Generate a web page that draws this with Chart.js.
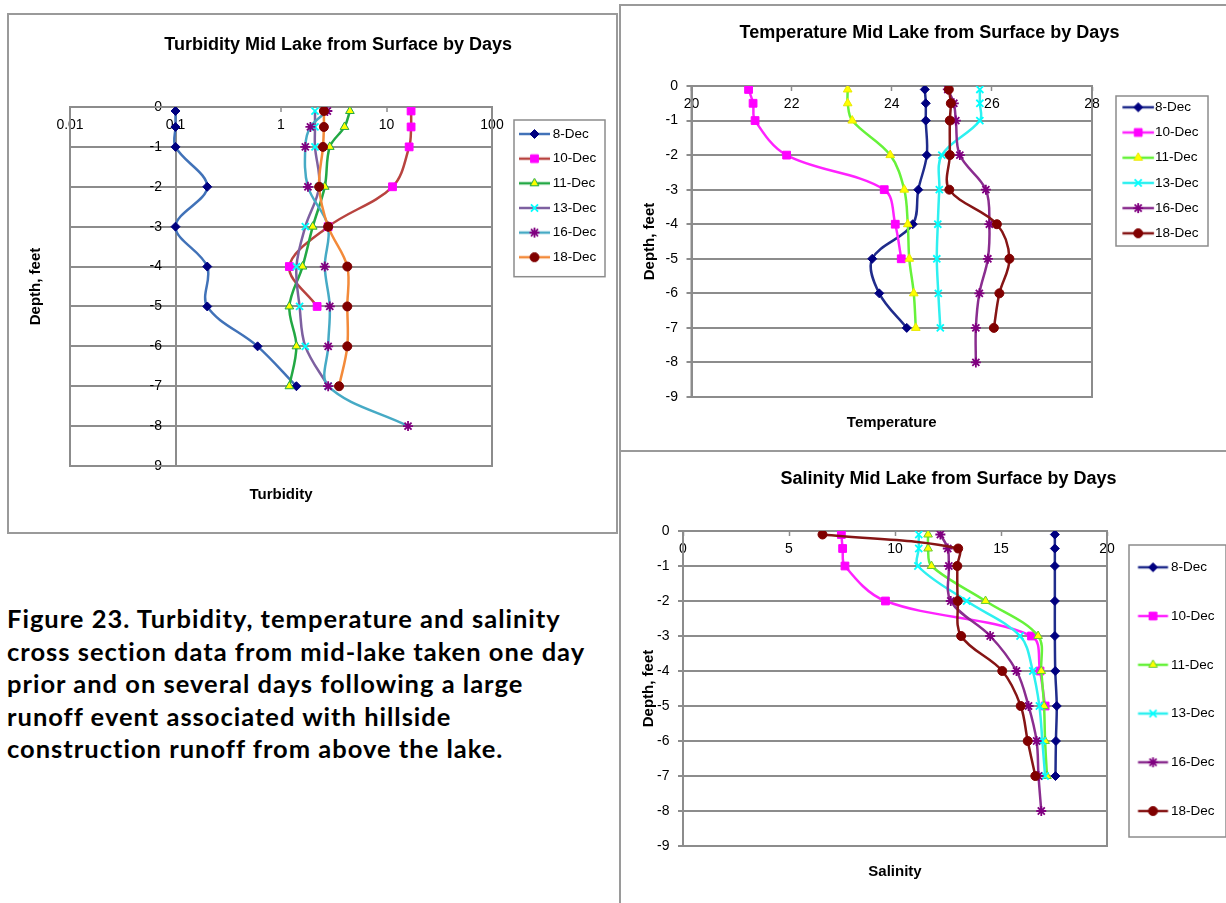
<!DOCTYPE html>
<html>
<head>
<meta charset="utf-8">
<script src="https://cdn.jsdelivr.net/npm/chart.js@4.4.1/dist/chart.umd.min.js"></script>
<style>
  body { margin: 0; background: #fff; width: 1226px; height: 903px; overflow: hidden; position: relative; }
  .box { position: absolute; border: 2px solid #9a9a9a; background: #fff; }
  #turbBox { left: 7px; top: 13px; width: 607px; height: 517px; }
  #tempBox { left: 619px; top: 4px; width: 606px; height: 444px; border-bottom: none; }
  #salBox { left: 619px; top: 450px; width: 606px; height: 455px; }
  canvas { display: block; }
  #caption { position: absolute; left: 7px; top: 602px; font-family: Lato, 'Open Sans', sans-serif;
             font-weight: 700; font-size: 25.5px; letter-spacing: 1px; line-height: 32.5px; color: #000; }
</style>
</head>
<body>
<div class="box" id="turbBox"><canvas id="turb" width="607" height="517"></canvas></div>
<div class="box" id="tempBox"><canvas id="temp" width="606" height="444"></canvas></div>
<div class="box" id="salBox"><canvas id="sal" width="606" height="451"></canvas></div>
<div id="caption">Figure 23. Turbidity, temperature and salinity<br>cross section data from mid-lake taken one day<br>prior and on several days following a large<br>runoff event associated with hillside<br>construction runoff from above the lake.</div>

<script>
// sampling days and depths (feet below surface)
const dayLabels = ['8-Dec', '10-Dec', '11-Dec', '13-Dec', '16-Dec', '18-Dec'];
const depthTo7 = [-0.1, -0.5, -1, -2, -3, -4, -5, -6, -7];
const depthTo5 = [-0.1, -0.5, -1, -2, -3, -4, -5];
const depthTo8 = [-0.1, -0.5, -1, -2, -3, -4, -5, -6, -7, -8];
const seriesDepths = [depthTo7, depthTo5, depthTo7, depthTo7, depthTo8, depthTo7];

// tick labels
const depthTicks = [0, -1, -2, -3, -4, -5, -6, -7, -8, -9];
const turbTicks = [0.01, 0.1, 1, 10, 100];
const tempTicks = [20, 22, 24, 26, 28];
const salTicks = [0, 5, 10, 15, 20];

// turbidity
const turb8  = [0.1, 0.1, 0.1, 0.2, 0.1, 0.2, 0.2, 0.6, 1.4];
const turb10 = [17.1, 17.1, 16.4, 11.4, 2.8, 1.2, 2.2];
const turb11 = [4.5, 4.0, 2.9, 2.6, 2.0, 1.6, 1.2, 1.4, 1.2];
const turb13 = [2.1, 2.1, 2.1, 2.3, 1.7, 1.4, 1.5, 1.7, 2.8];
const turb16 = [2.75, 1.9, 1.7, 1.8, 2.8, 2.6, 2.9, 2.8, 2.8, 16];
const turb18 = [2.55, 2.55, 2.5, 2.3, 2.8, 4.25, 4.25, 4.25, 3.55];

// temperature
const temp8  = [24.66, 24.68, 24.68, 24.7, 24.53, 24.42, 23.61, 23.75, 24.3];
const temp10 = [21.14, 21.23, 21.27, 21.9, 23.85, 24.07, 24.19];
const temp11 = [23.12, 23.12, 23.21, 23.97, 24.25, 24.32, 24.35, 24.44, 24.48];
const temp13 = [25.76, 25.76, 25.76, 25.0, 24.95, 24.92, 24.9, 24.93, 24.97];
const temp16 = [25.12, 25.24, 25.28, 25.36, 25.88, 25.95, 25.92, 25.75, 25.68, 25.68];
const temp18 = [25.14, 25.18, 25.16, 25.16, 25.15, 26.1, 26.35, 26.15, 26.04];

// salinity
const sal8  = [17.54, 17.54, 17.54, 17.54, 17.54, 17.56, 17.63, 17.59, 17.57];
const sal10 = [7.47, 7.53, 7.64, 9.55, 16.44, 16.84, 17.08];
const sal11 = [11.56, 11.56, 11.72, 14.27, 16.75, 16.9, 17.03, 17.08, 17.17];
const sal13 = [11.12, 11.12, 11.08, 13.38, 15.9, 16.5, 16.81, 16.95, 17.08];
const sal16 = [12.14, 12.49, 12.54, 12.63, 14.49, 15.73, 16.3, 16.68, 16.77, 16.9];
const sal18 = [6.58, 12.98, 12.94, 12.96, 13.12, 15.06, 15.93, 16.26, 16.62];

// styling
const gridColor = '#8c8c8c';
const keyFontSize = 13.5;
const tickFontSize = 14;
const keyPad = 6;
const markerStyles = ['rectRot', 'rect', 'triangle', 'crossRot', 'star', 'circle'];
const markerSizes = [4.5, 5.5, 5, 5, 5, 4.5];
const markerColors = ['#000080', '#ff00ff', '#ffff00', '#00ffff', '#800080', '#800000'];
const turbLines = ['#4172b8', '#b8433f', '#22a844', '#7d60a0', '#46aac5', '#f38a3a'];
const plainLines = ['#202c8c', '#ff22ff', '#66f23a', '#2ef0f0', '#8a2d8f', '#861515'];

Chart.defaults.font.family = "'Liberation Sans', Arial, sans-serif";
Chart.defaults.color = '#000';

function pairs(values, depths) {
  return values.map((v, i) => ({ x: v, y: depths[i] }));
}

function buildSets(series, lineColors, triangleEdge) {
  return series.map((vals, i) => ({
    label: dayLabels[i],
    data: pairs(vals, seriesDepths[i]),
    showLine: true,
    borderColor: lineColors[i],
    backgroundColor: lineColors[i],
    borderWidth: 2.5,
    tension: 0.35,
    pointStyle: markerStyles[i],
    pointRadius: markerSizes[i],
    pointBackgroundColor: markerColors[i],
    pointBorderColor: i === 2 ? triangleEdge : markerColors[i],
    pointBorderWidth: (i === 3 || i === 4) ? 1.8 : 1,
    order: -i
  }));
}

// small line+marker sample used as legend symbol
function keyImage(ds, dx, len) {
  const half = Math.ceil(Math.abs(dx) + len / 2 + 8);
  const c = document.createElement('canvas');
  c.width = half * 2; c.height = 16;
  const ctx = c.getContext('2d');
  const cx = half + dx, cy = 8;
  ctx.strokeStyle = ds.borderColor; ctx.lineWidth = 2.5;
  ctx.beginPath(); ctx.moveTo(cx - len / 2, cy); ctx.lineTo(cx + len / 2, cy); ctx.stroke();
  ctx.fillStyle = ds.pointBackgroundColor; ctx.strokeStyle = ds.pointBorderColor; ctx.lineWidth = ds.pointBorderWidth;
  Chart.helpers.drawPoint(ctx, { pointStyle: ds.pointStyle, radius: ds.pointRadius, rotation: 0, borderWidth: ds.pointBorderWidth }, cx, cy);
  return c;
}

// text widths, measured the way the legend and axis measure them
function widestText(texts, size) {
  const ctx = document.createElement('canvas').getContext('2d');
  ctx.font = size + 'px ' + Chart.defaults.font.family;
  return Math.max(...texts.map(t => ctx.measureText(t).width));
}

const plotFrame = {
  id: 'plotFrame',
  beforeDatasetsDraw(chart) {
    const { ctx, chartArea: a } = chart;
    ctx.save();
    ctx.strokeStyle = gridColor; ctx.lineWidth = 2;
    ctx.strokeRect(a.left, a.top, a.right - a.left, a.bottom - a.top);
    ctx.restore();
  }
};

const legendFrame = {
  id: 'legendFrame',
  afterDraw(chart, args, f) {
    const hb = chart.legend.legendHitBoxes;
    if (!hb || !hb.length) return;
    const half = keyFontSize / 2;
    const first = hb[0], last = hb[hb.length - 1];
    const x = first.left + f.left;
    const y = first.top + half - f.above;
    const h = last.top + half + f.below - y;
    const ctx = chart.ctx;
    ctx.save();
    ctx.strokeStyle = '#8c8c8c'; ctx.lineWidth = 1.5;
    ctx.strokeRect(x, y, f.width, h);
    ctx.restore();
  }
};

function tickSetter(list) {
  return s => { s.ticks = [...list].sort((a, b) => a - b).map(v => ({ value: v })); };
}

function makeChart(id, o) {
  const canvas = document.getElementById(id);
  const keyBox = o.textOffset - keyPad - keyFontSize / 2;
  const legendW = o.textOffset + widestText(dayLabels, keyFontSize) + 10;
  const padRight = canvas.width - o.area.right - legendW;
  const padLeft = Math.max(0, Math.min(o.area.left, 2 * o.titleX - (o.area.right + legendW)));
  const yWidth = o.area.left - padLeft;
  const depthWidest = widestText(depthTicks.map(String), tickFontSize);

  return new Chart(canvas, {
    type: 'scatter',
    data: { datasets: o.datasets },
    options: {
      responsive: false,
      animation: false,
      devicePixelRatio: 1,
      layout: { padding: { left: padLeft, top: 0, right: padRight, bottom: 0 } },
      plugins: {
        title: {
          display: true, text: o.title, color: '#000',
          font: { size: 18, weight: 'bold' },
          padding: { top: o.titlePad[0], bottom: o.titlePad[1] }
        },
        subtitle: {
          display: true, position: 'bottom', fullSize: false, text: o.xTitle, color: '#000',
          font: { size: 15, weight: 'bold' },
          padding: { top: o.xTitlePad[0], bottom: o.xTitlePad[1] }
        },
        legend: {
          position: 'right', align: 'start',
          title: { display: true, text: ' ', font: { size: 1, lineHeight: 1 }, padding: { top: o.legendTop - 1, bottom: 0 } },
          labels: {
            usePointStyle: true, pointStyleWidth: keyBox, padding: keyPad, color: '#000',
            font: { size: keyFontSize, lineHeight: o.keyLine + 'px' },
            generateLabels: chart => chart.data.datasets.map((ds, i) => ({
              text: [ds.label],
              pointStyle: keyImage(ds, o.keyDx, o.keyLen),
              fillStyle: ds.borderColor, strokeStyle: ds.borderColor, lineWidth: 0,
              hidden: false, datasetIndex: i, fontColor: '#000'
            }))
          }
        },
        tooltip: { enabled: false },
        legendFrame: o.frame
      },
      scales: {
        x: Object.assign({
          position: { y: 0 },
          afterBuildTicks: tickSetter(o.xTicks),
          ticks: { font: { size: tickFontSize }, color: '#000', padding: 6, autoSkip: false, maxRotation: 0 },
          grid: { display: true, drawOnChartArea: false, drawTicks: true, tickLength: 4, tickColor: gridColor, tickWidth: 1.5 },
          border: { display: true, color: gridColor, width: 2 }
        }, o.xScale),
        y: {
          type: 'linear', min: -9, max: 0, position: 'left',
          afterBuildTicks: tickSetter(depthTicks),
          afterFit: s => { s.width = yWidth; s.paddingTop = 8; s.paddingBottom = 8; },
          // labels right-aligned at a fixed offset from the plot's left edge
          ticks: { font: { size: tickFontSize }, color: '#000', mirror: true, crossAlign: 'far', padding: o.yLabelRight - depthWidest },
          grid: { color: gridColor, lineWidth: 2, drawTicks: o.yTickMarks, tickLength: 5, tickColor: gridColor },
          border: { display: true, color: gridColor, width: 2 },
          title: {
            display: true, text: 'Depth, feet', color: '#000',
            font: { size: 15, weight: 'bold' },
            padding: { top: o.yTitleX - padLeft - 9, bottom: 0 }
          }
        }
      }
    },
    plugins: [plotFrame, legendFrame]
  });
}

makeChart('turb', {
  datasets: buildSets([turb8, turb10, turb11, turb13, turb16, turb18], turbLines, '#22a844'),
  title: 'Turbidity Mid Lake from Surface by Days', xTitle: 'Turbidity',
  xScale: {
    type: 'logarithmic', min: 0.01, max: 100,
    ticks: { font: { size: tickFontSize }, color: '#000', padding: 6, autoSkip: false, maxRotation: 0, callback: v => String(v) },
    // only the vertical axis line at 0.1 is drawn across the plot
    grid: {
      display: true, drawTicks: true, tickLength: 4, tickColor: gridColor, tickWidth: 1.5, lineWidth: 2,
      color: c => (c.tick && c.tick.value === 0.1) ? gridColor : 'rgba(0,0,0,0)'
    }
  },
  xTicks: turbTicks,
  area: { left: 61, right: 483, top: 92, bottom: 451 },
  titleX: 333, yTitleX: 26.6, yLabelRight: 92, yTickMarks: false,
  titlePad: [19, 51.4], xTitlePad: [19.8, 28.2],
  textOffset: 60.7, legendTop: 106.25, keyLine: 18.65, keyDx: 12.5, keyLen: 31,
  frame: { left: 16, width: 91, above: 14, below: 19.45 }
});

makeChart('temp', {
  datasets: buildSets([temp8, temp10, temp11, temp13, temp16, temp18], plainLines, '#e8e800'),
  title: 'Temperature Mid Lake from Surface by Days', xTitle: 'Temperature',
  xScale: { type: 'linear', min: 20, max: 28 },
  xTicks: tempTicks,
  area: { left: 70.5, right: 471, top: 80, bottom: 391 },
  titleX: 308.5, yTitleX: 29, yLabelRight: -13.5, yTickMarks: true,
  titlePad: [16.5, 41.9], xTitlePad: [17.3, 17.7],
  textOffset: 63, legendTop: 88.55, keyLine: 19.2, keyDx: 15.1, keyLen: 31.5,
  frame: { left: 18, width: 92, above: 11.3, below: 12.7 }
});

makeChart('sal', {
  datasets: buildSets([sal8, sal10, sal11, sal13, sal16, sal18], plainLines, '#66cc33'),
  title: 'Salinity Mid Lake from Surface by Days', xTitle: 'Salinity',
  xScale: { type: 'linear', min: 0, max: 20 },
  xTicks: salTicks,
  area: { left: 62, right: 486, top: 79, bottom: 394 },
  titleX: 327.5, yTitleX: 28, yLabelRight: -13.5, yTickMarks: true,
  titlePad: [16.5, 40.9], xTitlePad: [16.7, 22.3],
  textOffset: 64, legendTop: 102.55, keyLine: 42.75, keyDx: 14.4, keyLen: 30,
  frame: { left: 16, width: 97, above: 22.3, below: 25.95 }
});
</script>
</body>
</html>
